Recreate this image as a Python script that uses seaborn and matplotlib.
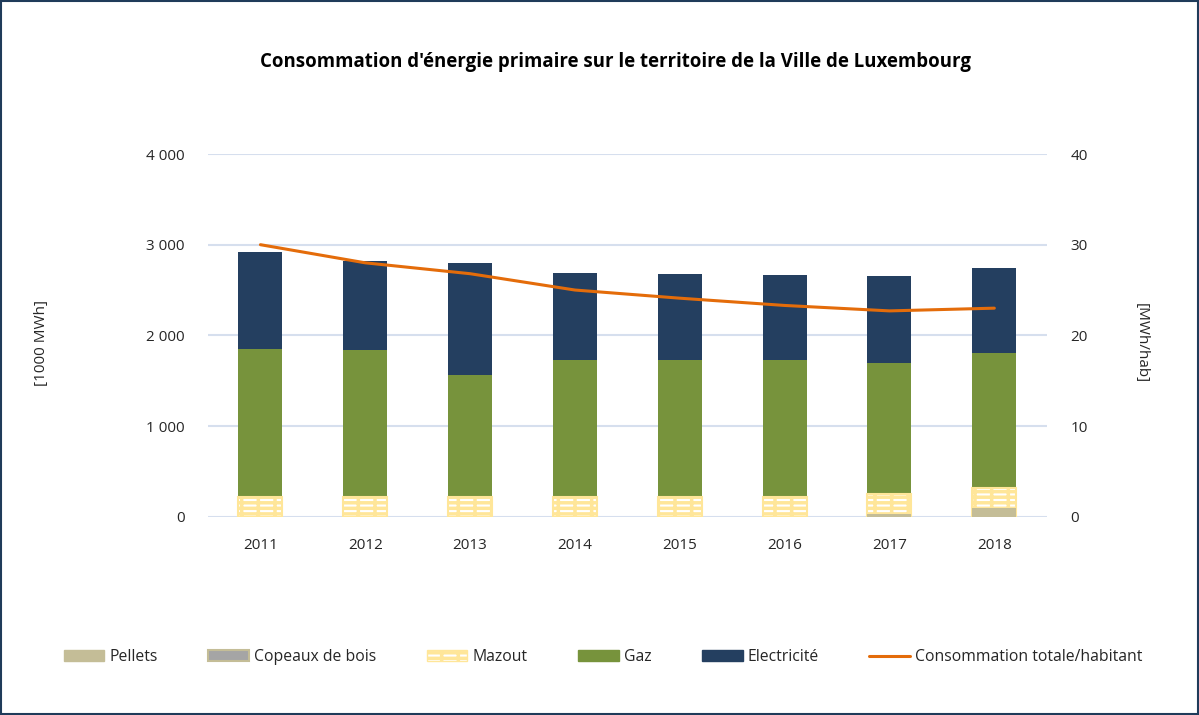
import matplotlib
matplotlib.use("Agg")
import matplotlib.pyplot as plt
import seaborn as sns
import numpy as np
from matplotlib.patches import Patch, Rectangle
from matplotlib.lines import Line2D
from matplotlib.ticker import FuncFormatter

# values ([1000 MWh] and [MWh/hab])
years = ['2011', '2012', '2013', '2014', '2015', '2016', '2017', '2018']
pellets = [0, 0, 0, 0, 0, 0, 25, 95]
copeaux = [0, 0, 0, 0, 0, 0, 0, 0]
mazout = [215, 215, 215, 215, 215, 215, 228, 220]
gaz = [1639, 1628, 1353, 1518, 1518, 1518, 1447, 1495]
electricite = [1069, 978, 1231, 956, 942, 931, 953, 934]
par_habitant = [30.0, 28.0, 26.8, 25.0, 24.1, 23.3, 22.7, 23.0]

c_pellets = '#C4BD97'
c_copeaux = '#A5A5A5'
c_mazout = '#FFE699'
c_gaz = '#77933C'
c_elec = '#243F60'
c_line = '#E46C0A'
c_text = '#262626'

sns.set_style('white')
plt.rcParams['font.family'] = ['Open Sans', 'DejaVu Sans']
plt.rcParams['hatch.linewidth'] = 2.5

fig = plt.figure(figsize=(11.99, 7.15), dpi=100)
ax = fig.add_axes([0.1735, 0.2773, 0.6995, 0.5073])

# cumulative heights, drawn from the top layer down
lvl1 = np.array(pellets)
lvl2 = lvl1 + np.array(copeaux)
lvl3 = lvl2 + np.array(mazout)
lvl4 = lvl3 + np.array(gaz)
lvl5 = lvl4 + np.array(electricite)

bw = 0.42
sns.barplot(x=years, y=lvl5, color=c_elec, saturation=1, width=bw,
            linewidth=0, errorbar=None, ax=ax)
sns.barplot(x=years, y=lvl4, color=c_gaz, saturation=1, width=bw,
            linewidth=0, errorbar=None, ax=ax)
sns.barplot(x=years, y=lvl3, color='white', saturation=1, width=bw,
            edgecolor=c_mazout, hatch='---|', linewidth=1.5,
            errorbar=None, ax=ax)
sns.barplot(x=years, y=lvl2, color=c_copeaux, saturation=1, width=bw,
            linewidth=0, errorbar=None, ax=ax)
sns.barplot(x=years, y=lvl1, color=c_pellets, saturation=1, width=bw,
            linewidth=0, errorbar=None, ax=ax)

ax.set_xlim(-0.5, len(years) - 0.5)
ax.set_ylim(0, 4000)
ax.set_yticks([0, 1000, 2000, 3000, 4000])
ax.yaxis.set_major_formatter(FuncFormatter(lambda v, p: f'{int(v):,}'.replace(',', ' ')))
ax.grid(axis='y', color='#D6DFEE', linewidth=1.5)
ax.set_axisbelow(True)
ax.set_xlabel('')
ax.set_ylabel('')
ax.tick_params(axis='both', length=0, labelsize=11, colors=c_text)
ax.tick_params(axis='y', pad=17)
ax.tick_params(axis='x', pad=15)
sns.despine(ax=ax, left=True, bottom=True)

ax2 = ax.twinx()
sns.lineplot(x=np.arange(len(years)), y=par_habitant, color=c_line,
             linewidth=2.2, ax=ax2)
ax2.set_ylim(0, 40)
ax2.set_yticks([0, 10, 20, 30, 40])
ax2.tick_params(axis='y', length=0, labelsize=11, colors=c_text, pad=17)
for s in ax2.spines.values():
    s.set_visible(False)
ax2.set_ylabel('')

fig.text(0.513, 0.913, "Consommation d'énergie primaire sur le territoire de la Ville de Luxembourg",
         ha='center', va='center', fontsize=13.4, fontweight='bold', color='black')
fig.text(0.035, 0.52, '[1000 MWh]', rotation=90, ha='center', va='center',
         fontsize=11, color=c_text)
fig.text(0.952, 0.52, '[MWh/hab]', rotation=270, ha='center', va='center',
         fontsize=11, color=c_text)

handles = [
    Patch(facecolor=c_pellets, edgecolor=c_pellets, label='Pellets'),
    Patch(facecolor=c_copeaux, edgecolor=c_pellets, linewidth=1.5, label='Copeaux de bois'),
    Patch(facecolor='white', edgecolor=c_mazout, hatch='---|', label='Mazout'),
    Patch(facecolor=c_gaz, edgecolor=c_gaz, label='Gaz'),
    Patch(facecolor=c_elec, edgecolor=c_elec, label='Electricité'),
    Line2D([0], [0], color=c_line, linewidth=2.2, label='Consommation totale/habitant'),
]
fig.legend(handles=handles, loc='center', bbox_to_anchor=(0.503, 0.081), ncol=6,
           frameon=False, fontsize=11.3, handlelength=2.6, handleheight=0.7,
           handletextpad=0.33, columnspacing=3.2, labelcolor=c_text)

fig.add_artist(Rectangle((0.001, 0.001), 0.998, 0.998, transform=fig.transFigure,
                         fill=False, edgecolor='#1F3B5A', linewidth=1.5))

fig.savefig('out.png', dpi=100, facecolor='white')
